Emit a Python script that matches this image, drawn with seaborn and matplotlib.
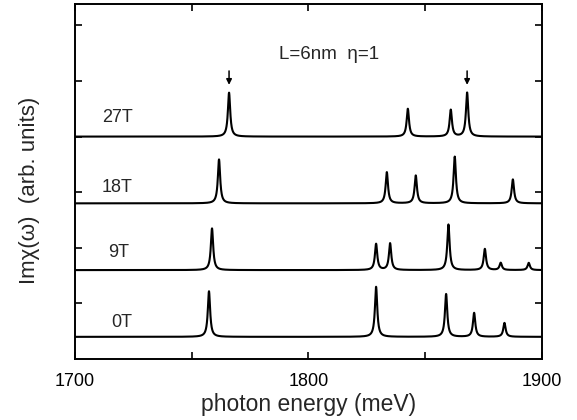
import numpy as np
import pandas as pd
import matplotlib
matplotlib.use("Agg")
import matplotlib.pyplot as plt
import seaborn as sns

# ---- data ----
fields = ["0T", "9T", "18T", "27T"]
offsets = [0.4, 1.6, 2.8, 4.0]
peaks_0T = [1757.4, 1829.0, 1859.0, 1871.0, 1884.0]
heights_0T = [0.82, 0.90, 0.77, 0.43, 0.25]
peaks_9T = [1758.7, 1829.0, 1835.0, 1860.0, 1875.6, 1882.4, 1894.4]
heights_9T = [0.75, 0.47, 0.48, 0.82, 0.38, 0.13, 0.13]
peaks_18T = [1761.7, 1833.6, 1846.0, 1862.7, 1887.6]
heights_18T = [0.79, 0.56, 0.50, 0.84, 0.43]
peaks_27T = [1766.0, 1842.6, 1861.0, 1868.0]
heights_27T = [0.79, 0.50, 0.48, 0.79]
arrow_x = [1766.0, 1868.0]
label_x = [1715.4, 1714.0, 1711.6, 1711.6]
label_y = [0.65, 1.92, 3.08, 4.34]
gamma = 0.6  # meV, Lorentzian half width

peak_sets = [(peaks_0T, heights_0T), (peaks_9T, heights_9T),
             (peaks_18T, heights_18T), (peaks_27T, heights_27T)]

energy = np.arange(1700.0, 1900.001, 0.05)
frames = []
for name, off, (pk, hh) in zip(fields, offsets, peak_sets):
    y = np.full_like(energy, off)
    for x0, h in zip(pk, hh):
        y += h * gamma**2 / ((energy - x0) ** 2 + gamma**2)
    frames.append(pd.DataFrame({"energy": energy, "signal": y, "field": name}))
df = pd.concat(frames, ignore_index=True)

sns.set_theme(style="ticks")
plt.rcParams["font.family"] = ["Liberation Sans", "DejaVu Sans"]

fig = plt.figure(figsize=(5.77, 4.20), dpi=100)
ax = fig.add_axes([0.130, 0.145, 0.809, 0.845])

sns.lineplot(data=df, x="energy", y="signal", units="field", estimator=None,
             color="black", lw=1.5, ax=ax, legend=False, sort=False)

ax.set_xlim(1700, 1900)
ax.set_ylim(0, 6.38)
ax.set_xticks([1700, 1800, 1900])
ax.set_xticks([1750, 1850], minor=True)
ax.set_yticks([1, 2, 3, 4, 5, 6])
ax.set_yticklabels([])
ax.tick_params(axis="both", which="both", direction="in", top=True, right=True,
               length=5, width=1.2, colors="black")
ax.tick_params(axis="x", labelsize=13, pad=10)
for s in ax.spines.values():
    s.set_linewidth(1.4)
    s.set_color("black")

ax.set_xlabel("photon energy (meV)", fontsize=16.5, labelpad=2)
ax.set_ylabel("Imχ(ω)  (arb. units)", fontsize=16)
ax.yaxis.set_label_coords(-0.074, 0.475)

for name, lx, ly in zip(fields, label_x, label_y):
    ax.text(lx, ly, name, fontsize=13, ha="left", va="center")

ax.text(1809, 5.47, "L=6nm  η=1", fontsize=13.5, ha="center", va="center")

for xa in arrow_x:
    ax.annotate("", xy=(xa, 4.93), xytext=(xa, 5.18),
                arrowprops=dict(arrowstyle="-|>", color="black", lw=1.1,
                                mutation_scale=8, shrinkA=0, shrinkB=0))

fig.savefig("out.png", dpi=100)
